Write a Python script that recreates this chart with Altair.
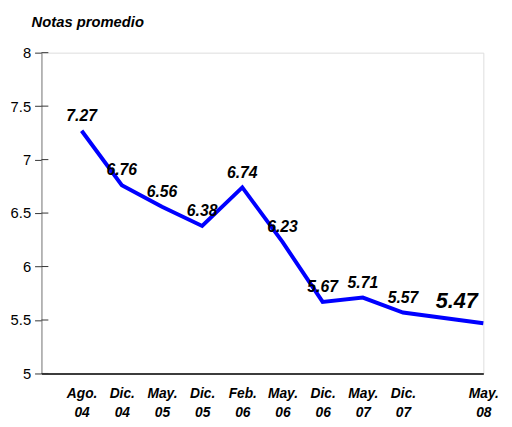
import altair as alt
import pandas as pd

categories = ["Ago. 04", "Dic. 04", "May. 05", "Dic. 05", "Feb. 06",
              "May. 06", "Dic. 06", "May. 07", "Dic. 07", "May. 08"]
values = [7.27, 6.76, 6.56, 6.38, 6.74, 6.23, 5.67, 5.71, 5.57, 5.47]
y_ticks = [5, 5.5, 6, 6.5, 7, 7.5, 8]
title_text = "Notas promedio"

# slot order along the x axis (Excel left an empty slot before the last date)
domain = ["_start"] + categories[:9] + ["_gap"] + categories[9:]

FONT = "Liberation Sans"

df = pd.DataFrame({"fecha": categories, "nota": values})
df["last"] = [False] * (len(categories) - 1) + [True]
ticks_df = pd.DataFrame({"t": y_ticks})

x_scale = alt.Scale(type="point", domain=domain, padding=0)
x_enc = alt.X("fecha:N", scale=x_scale,
              axis=alt.Axis(title=None, labelExpr="indexof(datum.label, '_') == 0 ? '' : split(datum.label, ' ')",
                            labelAngle=0, ticks=False, labelFont=FONT, labelFontSize=14,
                            labelFontWeight="bold", labelFontStyle="italic", labelColor="black",
                            labelPadding=13, labelLineHeight=20, domainColor="black",
                            domainWidth=1.5, labelBaseline="top"))
y_scale = alt.Scale(domain=[5, 8], nice=False, zero=False)
y_enc = alt.Y("nota:Q", scale=y_scale,
              axis=alt.Axis(title=None, values=y_ticks, format="~g", grid=False,
                            tickSize=7, tickColor="#333333", domainColor="#808080",
                            labelFont=FONT, labelFontSize=15, labelColor="black",
                            labelPadding=4))

line = alt.Chart(df).mark_line(color="#0000FF", strokeWidth=4).encode(x=x_enc, y=y_enc)

labels = alt.Chart(df).transform_filter("!datum.last").mark_text(
    font=FONT, fontSize=16, fontWeight="bold", fontStyle="italic", color="black",
    baseline="middle", dy=-15
).encode(x=alt.X("fecha:N", scale=x_scale),
         y=alt.Y("nota:Q", scale=y_scale), text=alt.Text("nota:Q", format=".2f"))

last_label = alt.Chart(df).transform_filter("datum.last").mark_text(
    font=FONT, fontSize=22, fontWeight="bold", fontStyle="italic", color="black",
    baseline="middle", dy=-22, dx=-27
).encode(x=alt.X("fecha:N", scale=x_scale),
         y=alt.Y("nota:Q", scale=y_scale), text=alt.Text("nota:Q", format=".2f"))

inner_ticks = alt.Chart(ticks_df).mark_rule(color="#333333", strokeWidth=1).encode(
    y=alt.Y("t:Q", scale=y_scale), x=alt.value(0), x2=alt.value(7))

chart = alt.layer(line, inner_ticks, labels, last_label).properties(
    width=449, height=326,
    autosize=alt.AutoSizeParams(type="none"),
    padding={"left": 34, "top": 42, "right": 21, "bottom": 51},
    title=alt.TitleParams(title_text, anchor="start", font=FONT, fontSize=15,
                          fontWeight="bold", fontStyle="italic", color="black",
                          dx=-10, offset=16, frame="group")
).configure_view(stroke=None).configure(background="white")

chart.save("out.html", embed_options={"renderer": "svg", "actions": False})
